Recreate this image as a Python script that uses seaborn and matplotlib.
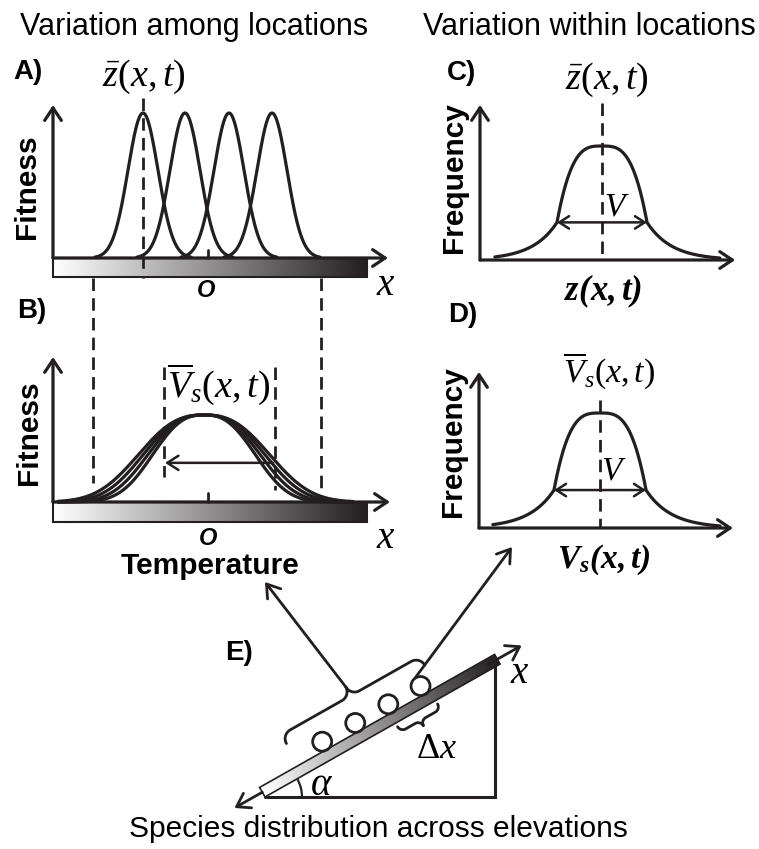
import numpy as np
import matplotlib
matplotlib.use("Agg")
import matplotlib.pyplot as plt
import seaborn as sns
from matplotlib.patches import Rectangle, Circle, Arc, Polygon, ArrowStyle
from matplotlib.collections import PolyCollection
from matplotlib.colors import LinearSegmentedColormap

sns.set_style("white")
plt.rcParams["font.family"] = ["Liberation Sans", "DejaVu Sans"]
plt.rcParams["mathtext.fontset"] = "custom"
plt.rcParams["mathtext.rm"] = "Liberation Serif"
plt.rcParams["mathtext.it"] = "Liberation Serif:italic"
plt.rcParams["mathtext.bf"] = "Liberation Serif:italic:bold"
plt.rcParams["mathtext.sf"] = "Liberation Sans"

INK = "#231f20"
W, H = 759, 849

# ---------------- schematic values ----------------
# A) fitness peaks of four local populations along the temperature axis
peak_centers = [-1.30, -0.46, 0.42, 1.28]
peak_sd = 0.30
# B) nested selection surfaces sharing one optimum
surface_center = -0.08
surface_hwhm = [1.08, 1.18, 1.28, 1.38]
surface_power = 2.6
# temperature range covered by the gradient bar, and the range limits tied A->B
gradient_span = [-3.1, 3.18]
range_edges = [-2.3, 2.26]
vs_span = [-0.86, 1.30]
vs_marks = [-0.88, 1.34]
# C), D) trait distribution inside one location
knee_height = 0.33
dome_power = 3.2
tail_scale = 0.55
tails_C = [-2.38, 2.62]
tails_D = [-2.33, 2.61]
# E) sampled sites along the slope and the slope angle (degrees)
site_positions = [77, 115, 153, 190]
slope_angle = 29.5

cmap = LinearSegmentedColormap.from_list("temperature", ["#ffffff", INK])

fig = plt.figure(figsize=(W / 100, H / 100), dpi=100)
ov = fig.add_axes([0, 0, 1, 1], zorder=0)
ov.axis("off")

AX_HEAD = ArrowStyle("->", head_length=0.45, head_width=0.3)
SMALL_HEAD = ArrowStyle("->", head_length=0.5, head_width=0.32)
BOTH_HEAD = ArrowStyle("<->", head_length=0.5, head_width=0.32)
DASH = (0, (4.5, 2.6))


def panel(left, right, top, bottom):
    return fig.add_axes([left / W, 1 - bottom / H, (right - left) / W, (bottom - top) / H], zorder=1)


def arrow(ax, start, end, style=AX_HEAD, lw=2.3, ms=20):
    ax.annotate("", xy=end, xytext=start, xycoords="data", textcoords="data",
                arrowprops=dict(arrowstyle=style, lw=lw, color=INK, shrinkA=0, shrinkB=0,
                                mutation_scale=ms),
                annotation_clip=False)


def temp_bar(ax, y_top, y_bottom):
    grad = np.linspace(0, 1, 256)[None, :]
    im = ax.imshow(grad, extent=(gradient_span[0], gradient_span[1], y_bottom, y_top),
                   aspect="auto", cmap=cmap, origin="lower", zorder=1, interpolation="bilinear")
    im.set_clip_on(False)
    ax.add_patch(Rectangle((gradient_span[0], y_bottom), gradient_span[1] - gradient_span[0],
                           y_top - y_bottom, fill=False, ec=INK, lw=1.5, clip_on=False, zorder=2))


def trait_density(d):
    a = np.abs(d)
    dome = knee_height + (1 - knee_height) * (1 - np.clip(a, 0, 1) ** dome_power)
    tail = knee_height * np.exp(-(a - 1) / tail_scale)
    return np.where(a <= 1, dome, tail)


def line(ax, xs, ys, lw=2.3):
    sns.lineplot(x=xs, y=ys, ax=ax, color=INK, linewidth=lw, estimator=None, sort=False, legend=False)


def label(x, y, s, **kw):
    kw.setdefault("ha", "center")
    kw.setdefault("va", "baseline")
    kw.setdefault("color", "black")
    fig.text(x / W, 1 - y / H, s, **kw)


# ---------------- A) ----------------
axA = panel(53, 390, 100, 258)
limA = ((-3.1, 3.64), (0, 158 / 145))
for c in peak_centers:
    xs = np.linspace(c - 3.2 * peak_sd, c + 3.2 * peak_sd, 300)
    line(axA, xs, np.exp(-0.5 * ((xs - c) / peak_sd) ** 2))
temp_bar(axA, 0, -19 / 145)
arrow(axA, (-3.1, 0), (3.6, 0))
arrow(axA, (-3.1, 0), (-3.1, 1.055))
axA.plot([0, 0], [0, 0.055], color=INK, lw=2, clip_on=False)
axA.plot([peak_centers[0]] * 2, [1.103, -0.138], color=INK, lw=2, ls=DASH, clip_on=False, zorder=3)

# ---------------- B) ----------------
axB = panel(53, 390, 350, 502)
limB = ((-3.1, 3.64), (0, 152 / 87))
for hw in surface_hwhm:
    xs = np.linspace(-3.0, 2.9, 400)
    line(axB, xs, np.exp(-np.log(2) * (np.abs(xs - surface_center) / hw) ** surface_power))
temp_bar(axB, 0, -20 / 87)
arrow(axB, (-3.1, 0), (3.64, 0))
arrow(axB, (-3.1, 0), (-3.1, 1.667))
axB.plot([0, 0], [0, 0.10], color=INK, lw=2, clip_on=False)
arrow(axB, (vs_span[1], 0.45), (vs_span[0], 0.45), style=SMALL_HEAD, lw=1.8, ms=16)
axB.plot([vs_marks[0]] * 2, [1.55, 0.29], color=INK, lw=2, ls=DASH, clip_on=False)
axB.plot([vs_marks[1]] * 2, [1.55, 0.14], color=INK, lw=2, ls=DASH, clip_on=False)
axB.plot([range_edges[0]] * 2, [2.575, 0.22], color=INK, lw=2, ls=DASH, clip_on=False)
axB.plot([range_edges[1]] * 2, [2.575, 0.023], color=INK, lw=2, ls=DASH, clip_on=False)

# ---------------- C) ----------------
axC = panel(480, 740, 100, 260)
limC = (((480 - 602) / 45, (740 - 602) / 45), (0, 160 / 114))
xs = np.linspace(tails_C[0], tails_C[1], 600)
line(axC, xs, trait_density(xs))
arrow(axC, (limC[0][0], 0), (2.96, 0))
arrow(axC, (limC[0][0], 0), (limC[0][0], 1.36))
arrow(axC, (-1, knee_height), (1, knee_height), style=BOTH_HEAD, lw=1.8, ms=14)
axC.plot([0, 0], [1.38, 0], color=INK, lw=2, ls=DASH, clip_on=False, zorder=3)

# ---------------- D) ----------------
axD = panel(479, 740, 360, 528)
limD = (((479 - 600) / 46, (740 - 600) / 46), (0, 168 / 115))
xs = np.linspace(tails_D[0], tails_D[1], 600)
line(axD, xs, trait_density(xs))
arrow(axD, (limD[0][0], 0), (2.89, 0))
arrow(axD, (limD[0][0], 0), (limD[0][0], 1.357))
arrow(axD, (-1, knee_height), (1, knee_height), style=BOTH_HEAD, lw=1.8, ms=14)
axD.plot([0, 0], [1.11, 0], color=INK, lw=2, ls=DASH, clip_on=False, zorder=3)

for ax, lim in ((axA, limA), (axB, limB), (axC, limC), (axD, limD)):
    ax.set_xlim(*lim[0])
    ax.set_ylim(*lim[1])
    ax.axis("off")
    for ln in ax.get_lines():
        ln.set_clip_on(False)

# ---------------- E) slope ----------------
ang = np.deg2rad(slope_angle)
u = np.array([np.cos(ang), -np.sin(ang)])
nrm = np.array([-np.sin(ang), -np.cos(ang)])
V0 = np.array([265.0, 797.0])
BAR_W = 11


def P(t, h):
    return V0 + t * u + h * nrm


base_len = 230.0
top_pt = np.array([V0[0] + base_len, V0[1] - base_len * np.tan(ang)])
ov.plot([V0[0], V0[0] + base_len, top_pt[0]], [V0[1], V0[1], top_pt[1]], color=INK, lw=2.2,
        solid_joinstyle="miter")

arrow(ov, tuple(P(0, BAR_W / 2)), tuple(P(-32, BAR_W / 2)), lw=2.0, ms=20)
arrow(ov, tuple(P(260, BAR_W / 2)), tuple(P(298, BAR_W / 2)), lw=2.0, ms=20)

n_seg = 160
ts = np.linspace(0, 270, n_seg + 1)
quads = [[P(ts[i], 0), P(ts[i + 1], 0), P(ts[i + 1], BAR_W), P(ts[i], BAR_W)] for i in range(n_seg)]
seg_colors = cmap(np.linspace(0, 1, n_seg))
ov.add_collection(PolyCollection(quads, facecolors=seg_colors, edgecolors=seg_colors, linewidths=0.6,
                                 zorder=2))
ov.add_patch(Polygon([P(0, 0), P(270, 0), P(270, BAR_W), P(0, BAR_W)], closed=True, fill=False,
                     ec=INK, lw=1.2, zorder=3))

for s in site_positions:
    ov.add_patch(Circle(tuple(P(s, BAR_W + 9)), 9.5, fill=False, ec=INK, lw=2.0, zorder=3))


def brace(t0, t1, h_tip, r, sign=1):
    tm = 0.5 * (t0 + t1)
    pts = []
    th = np.linspace(np.pi, np.pi / 2, 20)
    pts += [(t0 + r + r * np.cos(a), h_tip + sign * r * np.sin(a)) for a in th]
    th = np.linspace(-np.pi / 2, 0, 20)
    pts += [(tm - r + r * np.cos(a), h_tip + sign * (2 * r + r * np.sin(a))) for a in th]
    th = np.linspace(np.pi, 1.5 * np.pi, 20)
    pts += [(tm + r + r * np.cos(a), h_tip + sign * (2 * r + r * np.sin(a))) for a in th]
    th = np.linspace(np.pi / 2, 0, 20)
    pts += [(t1 - r + r * np.cos(a), h_tip + sign * r * np.sin(a)) for a in th]
    xy = np.array([P(t, h) for t, h in pts])
    ov.plot(xy[:, 0], xy[:, 1], color=INK, lw=2.0, solid_capstyle="round")
    return P(tm, h_tip + sign * 2 * r)


cusp = brace(45, 204, 36, 10)
brace(150, 196, -4, 6, sign=-1)
ov.add_patch(Arc(tuple(V0), 74, 74, theta1=-slope_angle, theta2=0, color=INK, lw=1.6))

arrow(ov, tuple(cusp), (265, 582), lw=2.0, ms=20)
arrow(ov, tuple(P(site_positions[-1], BAR_W + 19)), (512, 547), lw=2.0, ms=20)

ov.set_xlim(0, W)
ov.set_ylim(H, 0)

# ---------------- text ----------------
SANS = 21.5
MATH = 27.5
label(194, 35, "Variation among locations", fontsize=22)
label(589, 35, "Variation within locations", fontsize=22)
for x, y, s in ((13, 79, "A)"), (17, 318, "B)"), (447, 80, "C)"), (448, 322, "D)"), (225, 660, "E)")):
    label(x, y, s, ha="left", fontsize=20, fontweight="bold")
label(27, 186.5, "Fitness", rotation=90, va="center", fontsize=SANS, fontweight="bold")
label(29, 433, "Fitness", rotation=90, va="center", fontsize=SANS, fontweight="bold")
label(454, 178, "Frequency", rotation=90, va="center", fontsize=SANS, fontweight="bold")
label(453, 442, "Frequency", rotation=90, va="center", fontsize=SANS, fontweight="bold")
label(210, 574, "Temperature", fontsize=SANS, fontweight="bold")
label(206, 297, "O", fontsize=17, fontweight="bold", fontstyle="italic")
label(208, 545, "O", fontsize=17, fontweight="bold", fontstyle="italic")
label(143.5, 86, r"$\bar{z}(x,t)$", fontsize=MATH)
label(607, 89, r"$\bar{z}(x,t)$", fontsize=MATH)
label(219, 397, r"$\overline{V}_s(x,t)$", fontsize=MATH)
label(609, 382, r"$\overline{V}_s(x,t)$", fontsize=24.5)
label(617, 215, r"$V$", fontsize=24)
label(614, 480, r"$V$", fontsize=24)
label(386, 295, r"$x$", fontsize=28)
label(386, 548, r"$x$", fontsize=28)
label(520, 683, r"$x$", fontsize=28)
label(603, 300, r"$\mathbf{z(x,t)}$", fontsize=25)
label(604, 568, r"$\mathbf{V_s(x,t)}$", fontsize=24)
label(436, 758, r"$\Delta x$", fontsize=26)
label(322, 795, r"$\alpha$", fontsize=28)
label(378, 837, "Species distribution across elevations", fontsize=21.5)

fig.savefig("out.png", dpi=100)
